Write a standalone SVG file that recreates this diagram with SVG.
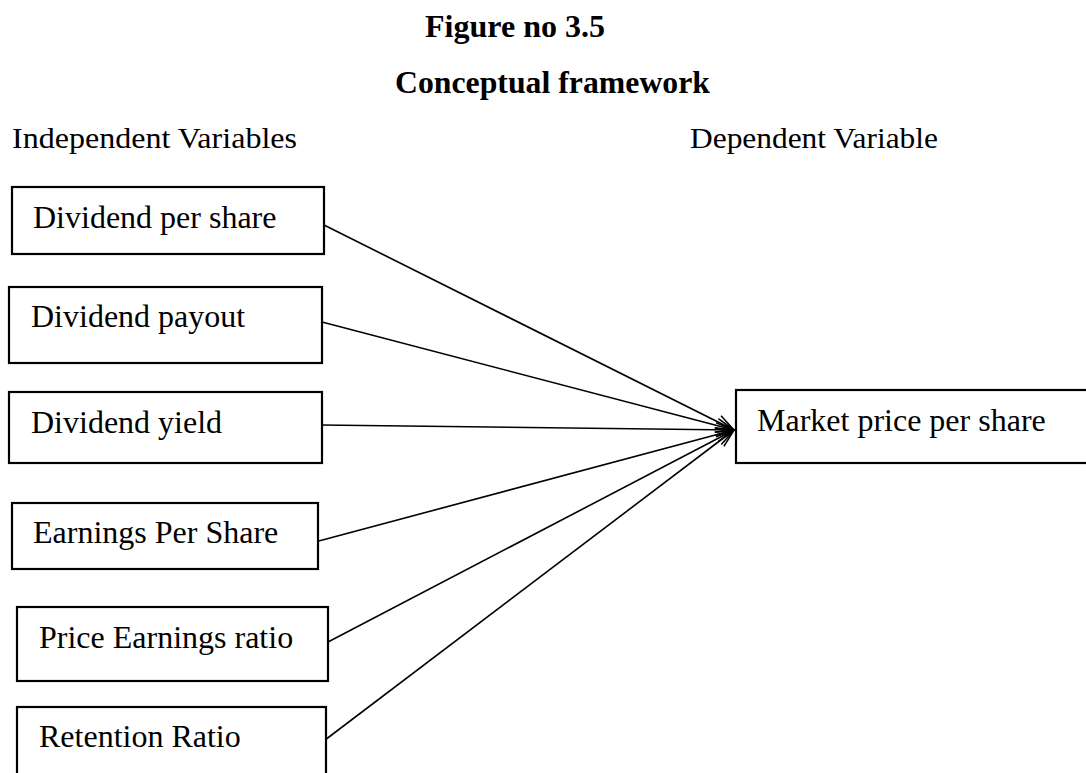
<svg xmlns="http://www.w3.org/2000/svg" width="1086" height="773" viewBox="0 0 1086 773">
<style>
.title{font-family:"Liberation Serif","Times New Roman",serif;font-weight:bold;font-size:31px;fill:#000}
.head{font-family:"Liberation Serif","Times New Roman",serif;font-size:29px;fill:#000}
.lbl{font-family:"Liberation Serif","Times New Roman",serif;font-size:32px;fill:#000}
.box{fill:#fff;stroke:#000;stroke-width:2.2}
.conn{stroke:#000;stroke-width:1.6;fill:none;marker-end:url(#arr)}
</style>
<defs>
<marker id="arr" viewBox="0 0 20 20" refX="19" refY="10" markerWidth="20" markerHeight="20" markerUnits="userSpaceOnUse" orient="auto">
<polyline points="1,3 19,10 1,17" fill="none" stroke="#000" stroke-width="1.6"/>
</marker>
</defs>
<rect width="1086" height="773" fill="#fff"/>
<g id="titles">
<text class="title" x="425" y="37" textLength="180" lengthAdjust="spacingAndGlyphs">Figure no 3.5</text>
<text class="title" x="395" y="93" textLength="315" lengthAdjust="spacingAndGlyphs">Conceptual framework</text>
<text class="head" x="12" y="148" textLength="285" lengthAdjust="spacingAndGlyphs">Independent Variables</text>
<text class="head" x="690" y="148" textLength="248" lengthAdjust="spacingAndGlyphs">Dependent Variable</text>
</g>
<g id="connectors">
<line class="conn" x1="324" y1="225" x2="734" y2="430"/>
<line class="conn" x1="322" y1="322" x2="734" y2="430"/>
<line class="conn" x1="321" y1="425" x2="734" y2="430"/>
<line class="conn" x1="315" y1="542" x2="734" y2="430"/>
<line class="conn" x1="328" y1="642" x2="734" y2="430"/>
<line class="conn" x1="325" y1="740" x2="734" y2="430"/>
</g>
<g id="node-dps">
<rect class="box" x="12" y="187" width="312" height="67"/>
<text class="lbl" x="33" y="228">Dividend per share</text>
</g>
<g id="node-payout">
<rect class="box" x="9" y="287" width="313" height="76"/>
<text class="lbl" x="31" y="327">Dividend payout</text>
</g>
<g id="node-yield">
<rect class="box" x="9" y="392" width="313" height="71"/>
<text class="lbl" x="31" y="433">Dividend yield</text>
</g>
<g id="node-eps">
<rect class="box" x="12" y="503" width="306" height="66"/>
<text class="lbl" x="33" y="543">Earnings Per Share</text>
</g>
<g id="node-pe">
<rect class="box" x="17" y="607" width="311" height="74"/>
<text class="lbl" x="39" y="648">Price Earnings ratio</text>
</g>
<g id="node-retention">
<rect class="box" x="17" y="707" width="309" height="80"/>
<text class="lbl" x="39" y="747">Retention Ratio</text>
</g>
<g id="node-mps">
<rect class="box" x="736" y="390" width="360" height="73"/>
<text class="lbl" x="757" y="431">Market price per share</text>
</g>
</svg>
